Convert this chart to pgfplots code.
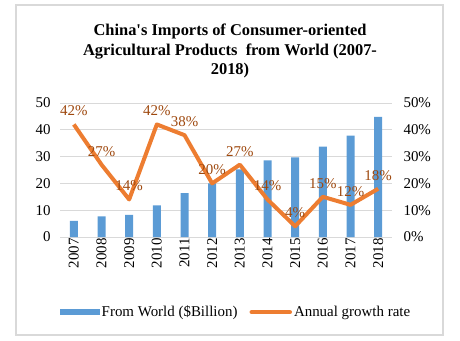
\documentclass[border=0pt]{standalone}
\usepackage{pgfplots}
\pgfplotsset{compat=1.18}
\usepackage{fontspec}
\setmainfont{Liberation Serif}
\definecolor{barblue}{HTML}{5B9BD5}
\definecolor{lineorange}{HTML}{ED7D31}
\definecolor{lblbrown}{HTML}{9E480E}
\definecolor{gridgray}{HTML}{D9D9D9}
\definecolor{framegray}{HTML}{D9D9D9}
\begin{document}
\begin{tikzpicture}[x=1bp,y=1bp]
\path[use as bounding box] (0,0) rectangle (460,340);
\draw[framegray, line width=1.5bp] (16,5) rectangle (443,335);
\node[align=center, font=\fontsize{16.5}{19.5}\selectfont\bfseries] at (230,289) {China\textquotesingle s Imports of Consumer-oriented\\Agricultural Products\ \ from World (2007-\\2018)};
\begin{axis}[
  at={(60bp,103bp)}, anchor=south west,
  scale only axis, width=332bp, height=134bp,
  xmin=-0.5, xmax=11.5, ymin=0, ymax=50,
  axis y line*=left, axis x line*=bottom,
  axis line style={draw=none},
  x axis line style={draw=gridgray},
  ytick={0,10,...,50},
  ymajorgrids, grid style={gridgray, line width=0.8bp},
  xtick={0,...,11},
  xticklabels={2007,2008,2009,2010,2011,2012,2013,2014,2015,2016,2017,2018},
  xticklabel style={rotate=90, anchor=east, font=\fontsize{15}{17}\selectfont, inner sep=1bp},
  yticklabel style={font=\fontsize{15}{17}\selectfont, xshift=-6bp},
  /pgf/number format/assume math mode=true,
  major tick length=0pt,
  legend style={at={(0.53,-0.56)}, anchor=center, draw=none, fill=none, legend columns=2, font=\fontsize{15}{17}\selectfont, /tikz/every even column/.append style={column sep=10bp}},
]
\addplot[ybar, bar width=8bp, fill=barblue, draw=none,
  legend image code/.code={\fill[barblue] (0bp,-3bp) rectangle (40bp,3bp);}] coordinates {
(0,6.0) (1,7.7) (2,8.3) (3,11.8) (4,16.4) (5,20.0) (6,25.2) (7,28.6) (8,29.7) (9,33.7) (10,37.8) (11,44.8)};
\addlegendentry{From World (\$Billion)}
\addlegendimage{legend image code/.code={\draw[lineorange, line width=4.5bp, line cap=round] (2bp,0bp) -- (40bp,0bp);}}
\addlegendentry{Annual growth rate}
\end{axis}
\begin{axis}[
  at={(60bp,103bp)}, anchor=south west,
  scale only axis, width=332bp, height=134bp,
  xmin=-0.5, xmax=11.5, ymin=0, ymax=50,
  axis y line*=right, axis x line=none,
  axis line style={draw=none},
  ytick={0,10,...,50},
  yticklabel={\pgfmathprintnumber{\tick}\%},
  yticklabel style={font=\fontsize{15}{17}\selectfont, xshift=8bp},
  /pgf/number format/assume math mode=true,
  major tick length=0pt,
  xtick=\empty,
  nodes near coords={\pgfmathprintnumber{\pgfplotspointmeta}\%},
  nodes near coords style={font=\fontsize{15}{17}\selectfont, text=lblbrown, anchor=south, yshift=3bp},
  point meta=explicit,
]
\addplot[lineorange, line width=4bp, line join=round] coordinates {
(0,42) [42] (1,27) [27] (2,14) [14] (3,42) [42] (4,38) [38] (5,20) [20] (6,27) [27] (7,14) [14] (8,4) [4] (9,15) [15] (10,12) [12] (11,18) [18]};
\end{axis}
\end{tikzpicture}
\end{document}
